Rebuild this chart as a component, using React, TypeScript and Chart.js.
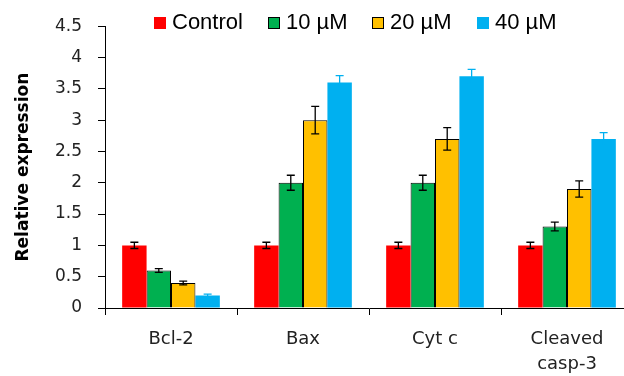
import { useEffect, useRef } from 'react';
import { Chart, registerables } from 'chart.js';

Chart.register(...registerables);

const categories: string[][] = [['Bcl-2'], ['Bax'], ['Cyt c'], ['Cleaved', 'casp-3']];
const seriesLabels = ['Control', '10 µM', '20 µM', '40 µM'];
const controlValues = [1.0, 1.0, 1.0, 1.0];
const dose10Values = [0.6, 2.0, 2.0, 1.3];
const dose20Values = [0.4, 3.0, 2.7, 1.9];
const dose40Values = [0.2, 3.6, 3.7, 2.7];
const controlErrors = [0.05, 0.05, 0.05, 0.05];
const dose10Errors = [0.03, 0.12, 0.12, 0.07];
const dose20Errors = [0.03, 0.22, 0.18, 0.13];
const dose40Errors = [0.02, 0.11, 0.11, 0.1];
const yMin = 0;
const yMax = 4.5;
const yStep = 0.5;

const errorBarPlugin = {
  id: 'errorBars',
  afterDatasetsDraw(chart: any) {
    const ctx = chart.ctx;
    const yScale = chart.scales.y;
    chart.data.datasets.forEach((ds: any, i: number) => {
      const meta = chart.getDatasetMeta(i);
      meta.data.forEach((bar: any, j: number) => {
        const v = ds.data[j];
        const e = ds.errors[j];
        const x = bar.x;
        const yTop = yScale.getPixelForValue(v + e);
        const yBot = yScale.getPixelForValue(v - e);
        ctx.save();
        ctx.strokeStyle = ds.errorColor;
        ctx.lineWidth = 1.3;
        ctx.beginPath();
        ctx.moveTo(x, yTop);
        ctx.lineTo(x, yBot);
        ctx.moveTo(x - 4, yTop);
        ctx.lineTo(x + 4, yTop);
        ctx.moveTo(x - 4, yBot);
        ctx.lineTo(x + 4, yBot);
        ctx.stroke();
        ctx.restore();
      });
    });
  },
};

const legendPlugin = {
  id: 'topLegend',
  afterDraw(chart: any) {
    const ctx = chart.ctx;
    ctx.save();
    ctx.font = '22px "Liberation Sans", Arial, sans-serif';
    const box = 12;
    const gap = 6;
    const spacing = 25;
    const items = chart.data.datasets.map((ds: any) => ({
      text: ds.label,
      w: ctx.measureText(ds.label).width,
      fill: ds.backgroundColor,
      border: ds.borderWidth > 0 ? ds.borderColor : null,
    }));
    const total =
      items.reduce((s: number, it: any) => s + box + gap + it.w, 0) + spacing * (items.length - 1);
    const center = (chart.chartArea.left + chart.chartArea.right) / 2 - 14;
    let x = center - total / 2;
    const boxTop = 17;
    const baseline = 29;
    items.forEach((it: any) => {
      const bx = Math.round(x);
      ctx.fillStyle = it.fill;
      ctx.fillRect(bx, boxTop, box, box);
      if (it.border) {
        ctx.strokeStyle = it.border;
        ctx.lineWidth = 1;
        ctx.strokeRect(bx + 0.5, boxTop + 0.5, box - 1, box - 1);
      }
      ctx.fillStyle = '#000';
      ctx.textBaseline = 'alphabetic';
      ctx.textAlign = 'left';
      ctx.fillText(it.text, bx + box + gap, baseline);
      x += box + gap + it.w + spacing;
    });
    ctx.restore();
  },
};

export default function App() {
  const ref = useRef<HTMLCanvasElement | null>(null);

  useEffect(() => {
    if (!ref.current) return;
    const chart = new Chart(ref.current, {
      type: 'bar',
      data: {
        labels: categories as any,
        datasets: [
          {
            label: seriesLabels[0],
            data: controlValues,
            errors: controlErrors,
            errorColor: '#000',
            backgroundColor: '#FF0000',
            borderColor: '#FF0000',
            borderWidth: 0,
          },
          {
            label: seriesLabels[1],
            data: dose10Values,
            errors: dose10Errors,
            errorColor: '#000',
            backgroundColor: '#00B050',
            borderColor: '#000',
            borderWidth: 1,
          },
          {
            label: seriesLabels[2],
            data: dose20Values,
            errors: dose20Errors,
            errorColor: '#000',
            backgroundColor: '#FFC000',
            borderColor: '#000',
            borderWidth: 1,
          },
          {
            label: seriesLabels[3],
            data: dose40Values,
            errors: dose40Errors,
            errorColor: '#00B0F0',
            backgroundColor: '#00B0F0',
            borderColor: '#00B0F0',
            borderWidth: 0,
          },
        ] as any,
      },
      options: {
        responsive: false,
        animation: false,
        devicePixelRatio: 1,
        layout: { padding: { top: 25, right: 7, left: 0, bottom: 0 } },
        datasets: {
          bar: { categoryPercentage: 0.74, barPercentage: 1 },
        },
        plugins: {
          legend: { display: false },
          tooltip: { enabled: false },
        },
        scales: {
          x: {
            type: 'category',
            grid: {
              offset: true,
              drawOnChartArea: false,
              drawTicks: true,
              tickLength: 7,
              color: '#000',
            },
            border: { color: '#000', width: 1 },
            ticks: {
              color: '#222',
              padding: 12,
              font: { family: '"DejaVu Sans", sans-serif', size: 18, lineHeight: 1.4 },
              maxRotation: 0,
              autoSkip: false,
            },
            afterFit: (scale: any) => {
              scale.height = 68;
            },
          },
          y: {
            min: yMin,
            max: yMax,
            grid: {
              drawOnChartArea: false,
              drawTicks: true,
              tickLength: 7,
              color: '#000',
            },
            border: { color: '#000', width: 1 },
            ticks: {
              stepSize: yStep,
              color: '#222',
              padding: 16,
              font: { family: '"DejaVu Sans", sans-serif', size: 17 },
              callback: (value: any) => String(Number(value)),
            },
            title: {
              display: true,
              text: 'Relative expression',
              color: '#000',
              font: { family: '"DejaVu Sans", sans-serif', size: 17, weight: 'bold' },
              padding: { top: 13, bottom: 0 },
            },
            afterFit: (scale: any) => {
              scale.width = 105;
            },
          },
        },
      } as any,
      plugins: [errorBarPlugin, legendPlugin],
    });
    return () => chart.destroy();
  }, []);

  return (
    <div
      style={{
        position: 'fixed',
        left: 0,
        top: 0,
        width: 624,
        height: 376,
        overflow: 'hidden',
        background: '#fff',
      }}
    >
      <canvas ref={ref} width={640} height={376} style={{ display: 'block' }} />
    </div>
  );
}
